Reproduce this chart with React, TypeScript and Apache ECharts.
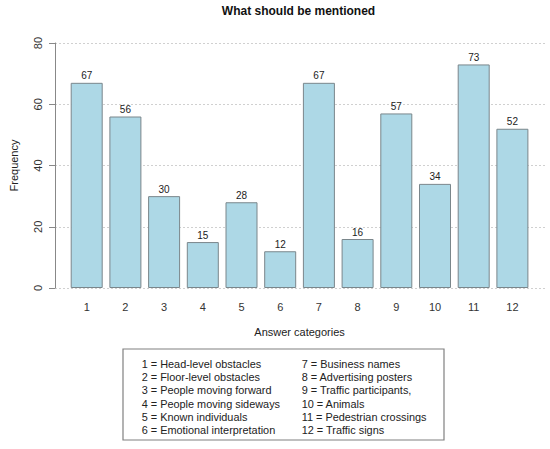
import React, { useEffect, useRef } from "react";
import * as echarts from "echarts";

const categories = ["1", "2", "3", "4", "5", "6", "7", "8", "9", "10", "11", "12"];
const frequencies = [67, 56, 30, 15, 28, 12, 67, 16, 57, 34, 73, 52];
const yTicks = { min: 0, max: 80, interval: 20 };
const chartTitle = "What should be mentioned";
const xTitle = "Answer categories";
const yTitle = "Frequency";
const legendLeft = [
  "1 = Head-level obstacles",
  "2 = Floor-level obstacles",
  "3 = People moving forward",
  "4 = People moving sideways",
  "5 = Known individuals",
  "6 = Emotional interpretation",
];
const legendRight = [
  "7 = Business names",
  "8 = Advertising posters",
  "9 = Traffic participants,",
  "10 = Animals",
  "11 = Pedestrian crossings",
  "12 = Traffic signs",
];

const FONT = "'Liberation Sans', Arial, sans-serif";

export default function App() {
  const ref = useRef<HTMLDivElement>(null);
  useEffect(() => {
    if (!ref.current) return;
    const chart = echarts.init(ref.current, undefined, { renderer: "svg" });
    const legendTexts: any[] = [];
    legendLeft.forEach((t, i) => {
      legendTexts.push({
        type: "text",
        x: 141.7,
        y: 364 + i * 13.2,
        style: { text: t, font: `10.9px ${FONT}`, fill: "#222", verticalAlign: "middle", align: "left" },
      });
    });
    legendRight.forEach((t, i) => {
      legendTexts.push({
        type: "text",
        x: 301.7,
        y: 364 + i * 13.2,
        style: { text: t, font: `10.9px ${FONT}`, fill: "#222", verticalAlign: "middle", align: "left" },
      });
    });
    chart.setOption({
      animation: false,
      textStyle: { fontFamily: FONT },
      grid: [
        { left: 52, right: 5, top: 43, bottom: 161 },
        { left: 67.35, right: 18.25, top: 43, bottom: 161 },
      ],
      xAxis: [
        { type: "value", gridIndex: 0, min: 0, max: 1, show: false },
        {
          type: "category",
          gridIndex: 1,
          data: categories,
          axisLine: { show: false },
          axisTick: { show: false },
          axisLabel: { fontSize: 11, color: "#333", margin: 13, fontFamily: FONT },
          name: xTitle,
          nameLocation: "middle",
          nameGap: 38,
          nameTextStyle: { fontSize: 11, color: "#222", fontFamily: FONT },
        },
      ],
      yAxis: [
        {
          type: "value",
          gridIndex: 0,
          min: yTicks.min,
          max: yTicks.max,
          interval: yTicks.interval,
          axisLine: { show: true, lineStyle: { color: "#888", width: 1 } },
          axisTick: { show: true, length: 6, lineStyle: { color: "#888" } },
          axisLabel: { rotate: 90, fontSize: 11, color: "#333", margin: 12, fontFamily: FONT },
          splitLine: { show: true, lineStyle: { color: "#d0d0d0", type: [2, 2], width: 1 } },
          name: yTitle,
          nameLocation: "middle",
          nameRotate: 90,
          nameGap: 36,
          nameTextStyle: { fontSize: 11, color: "#222", fontFamily: FONT },
        },
        {
          type: "value",
          gridIndex: 1,
          min: yTicks.min,
          max: yTicks.max,
          interval: yTicks.interval,
          show: false,
        },
      ],
      series: [
        {
          type: "bar",
          xAxisIndex: 1,
          yAxisIndex: 1,
          data: frequencies,
          barWidth: 32,
          itemStyle: { color: "#ADD8E6", borderColor: "#7a868b", borderWidth: 1 },
          label: { show: true, position: "top", distance: 2, fontSize: 10, color: "#222", fontFamily: FONT },
        },
      ],
      graphic: [
        {
          type: "text",
          x: 298.5,
          y: 11,
          style: { text: chartTitle, font: `bold 12px ${FONT}`, fill: "#111", align: "center", verticalAlign: "middle" },
        },
        {
          type: "rect",
          shape: { x: 123, y: 349, width: 321, height: 91 },
          style: { fill: "#fff", stroke: "#808080", lineWidth: 1.2 },
        },
        ...legendTexts,
      ],
    });
    return () => chart.dispose();
  }, []);
  return <div ref={ref} style={{ width: 550, height: 449, position: "absolute", left: 0, top: 0 }} />;
}
